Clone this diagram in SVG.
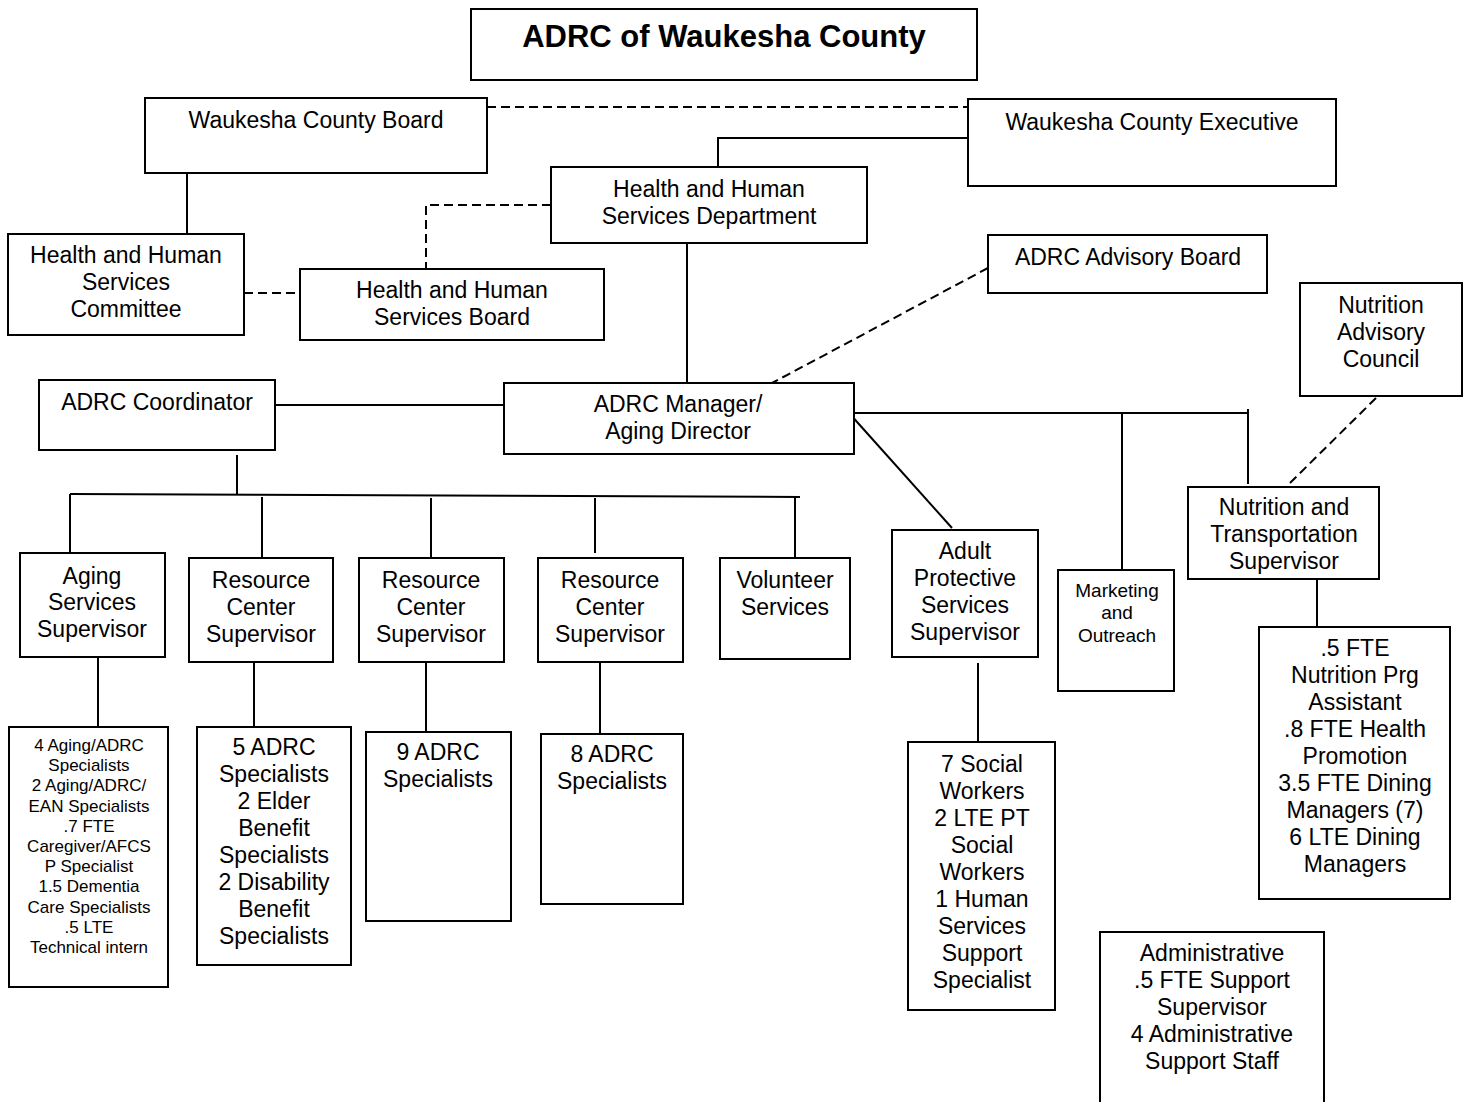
<svg xmlns="http://www.w3.org/2000/svg" width="1470" height="1102" viewBox="0 0 1470 1102">
<style>
.b{fill:#fff;stroke:#000;stroke-width:2}
.t{font-family:"Liberation Sans",Arial,sans-serif;font-size:23px;fill:#000;text-anchor:middle}
.s{font-size:17px}
.m{font-size:19px}
.title{font-size:31px;font-weight:bold}
.l{fill:none;stroke:#000;stroke-width:2}
.d{fill:none;stroke:#000;stroke-width:2;stroke-dasharray:9 5}
</style>
<rect width="1470" height="1102" fill="#fff"/>
<g id="connectors">
<path class="d" d="M487 107H968"/>
<path class="l" d="M968 138H718V167"/>
<path class="l" d="M187 173V234"/>
<path class="d" d="M244 293H300"/>
<path class="d" d="M551 205H426V269"/>
<path class="l" d="M687 243V383"/>
<path class="d" d="M988 268L772 383"/>
<path class="l" d="M275 405H504"/>
<path class="l" d="M237 455V495"/>
<path class="l" d="M70 494L800 497"/>
<path class="l" d="M70 494V553M262 497V558M431 498V558M595 498V553M795 497V558"/>
<path class="l" d="M849 413L952 528"/>
<path class="l" d="M849 413H1248M1122 413V570M1248 409V484"/>
<path class="d" d="M1376 398L1287 486"/>
<path class="l" d="M1317 579V627"/>
<path class="l" d="M98 657V727M254 662V727M426 662V732M600 662V734M978 663V742"/>
</g>
<g id="title"><rect class="b" x="471" y="9" width="506" height="71"/><text class="t title" x="724" y="47">ADRC of Waukesha County</text></g>
<g id="county-board"><rect class="b" x="145" y="98" width="342" height="75"/><text class="t" x="316" y="128">Waukesha County Board</text></g>
<g id="county-exec"><rect class="b" x="968" y="99" width="368" height="87"/><text class="t" x="1152" y="130">Waukesha County Executive</text></g>
<g id="hhs-dept"><rect class="b" x="551" y="167" width="316" height="76"/><text class="t" x="709" y="197">Health and Human</text><text class="t" x="709" y="224">Services Department</text></g>
<g id="hhs-committee"><rect class="b" x="8" y="234" width="236" height="101"/><text class="t" x="126" y="263">Health and Human</text><text class="t" x="126" y="290">Services</text><text class="t" x="126" y="317">Committee</text></g>
<g id="hhs-board"><rect class="b" x="300" y="269" width="304" height="71"/><text class="t" x="452" y="298">Health and Human</text><text class="t" x="452" y="325">Services Board</text></g>
<g id="advisory-board"><rect class="b" x="988" y="235" width="279" height="58"/><text class="t" x="1128" y="265">ADRC Advisory Board</text></g>
<g id="nutrition-council"><rect class="b" x="1300" y="283" width="162" height="113"/><text class="t" x="1381" y="313">Nutrition</text><text class="t" x="1381" y="340">Advisory</text><text class="t" x="1381" y="367">Council</text></g>
<g id="coordinator"><rect class="b" x="39" y="380" width="236" height="70"/><text class="t" x="157" y="410">ADRC Coordinator</text></g>
<g id="manager"><rect class="b" x="504" y="383" width="350" height="71"/><text class="t" x="678" y="412">ADRC Manager/</text><text class="t" x="678" y="439">Aging Director</text></g>
<g id="aging-sup"><rect class="b" x="20" y="553" width="145" height="104"/><text class="t" x="92" y="584">Aging</text><text class="t" x="92" y="610">Services</text><text class="t" x="92" y="637">Supervisor</text></g>
<g id="rcs1"><rect class="b" x="189" y="558" width="144" height="104"/><text class="t" x="261" y="588">Resource</text><text class="t" x="261" y="615">Center</text><text class="t" x="261" y="642">Supervisor</text></g>
<g id="rcs2"><rect class="b" x="359" y="558" width="145" height="104"/><text class="t" x="431" y="588">Resource</text><text class="t" x="431" y="615">Center</text><text class="t" x="431" y="642">Supervisor</text></g>
<g id="rcs3"><rect class="b" x="538" y="558" width="145" height="104"/><text class="t" x="610" y="588">Resource</text><text class="t" x="610" y="615">Center</text><text class="t" x="610" y="642">Supervisor</text></g>
<g id="volunteer"><rect class="b" x="720" y="558" width="130" height="101"/><text class="t" x="785" y="588">Volunteer</text><text class="t" x="785" y="615">Services</text></g>
<g id="aps-sup"><rect class="b" x="892" y="530" width="146" height="127"/><text class="t" x="965" y="559">Adult</text><text class="t" x="965" y="586">Protective</text><text class="t" x="965" y="613">Services</text><text class="t" x="965" y="640">Supervisor</text></g>
<g id="marketing"><rect class="b" x="1058" y="570" width="116" height="121"/><text class="t m" x="1117" y="597">Marketing</text><text class="t m" x="1117" y="619">and</text><text class="t m" x="1117" y="642">Outreach</text></g>
<g id="nutrition-sup"><rect class="b" x="1188" y="487" width="191" height="92"/><text class="t" x="1284" y="515">Nutrition and</text><text class="t" x="1284" y="542">Transportation</text><text class="t" x="1284" y="569">Supervisor</text></g>
<g id="nutrition-staff"><rect class="b" x="1259" y="627" width="191" height="272"/>
<text class="t" x="1355" y="656">.5 FTE</text><text class="t" x="1355" y="683">Nutrition Prg</text><text class="t" x="1355" y="710">Assistant</text><text class="t" x="1355" y="737">.8 FTE Health</text><text class="t" x="1355" y="764">Promotion</text><text class="t" x="1355" y="791">3.5 FTE Dining</text><text class="t" x="1355" y="818">Managers (7)</text><text class="t" x="1355" y="845">6 LTE Dining</text><text class="t" x="1355" y="872">Managers</text></g>
<g id="aging-staff"><rect class="b" x="9" y="727" width="159" height="260"/>
<text class="t s" x="89" y="751">4 Aging/ADRC</text><text class="t s" x="89" y="771">Specialists</text><text class="t s" x="89" y="791">2 Aging/ADRC/</text><text class="t s" x="89" y="812">EAN Specialists</text><text class="t s" x="89" y="832">.7 FTE</text><text class="t s" x="89" y="852">Caregiver/AFCS</text><text class="t s" x="89" y="872">P Specialist</text><text class="t s" x="89" y="892">1.5 Dementia</text><text class="t s" x="89" y="913">Care Specialists</text><text class="t s" x="89" y="933">.5 LTE</text><text class="t s" x="89" y="953">Technical intern</text></g>
<g id="rc1-staff"><rect class="b" x="197" y="727" width="154" height="238"/>
<text class="t" x="274" y="755">5 ADRC</text><text class="t" x="274" y="782">Specialists</text><text class="t" x="274" y="809">2 Elder</text><text class="t" x="274" y="836">Benefit</text><text class="t" x="274" y="863">Specialists</text><text class="t" x="274" y="890">2 Disability</text><text class="t" x="274" y="917">Benefit</text><text class="t" x="274" y="944">Specialists</text></g>
<g id="rc2-staff"><rect class="b" x="366" y="732" width="145" height="189"/><text class="t" x="438" y="760">9 ADRC</text><text class="t" x="438" y="787">Specialists</text></g>
<g id="rc3-staff"><rect class="b" x="541" y="734" width="142" height="170"/><text class="t" x="612" y="762">8 ADRC</text><text class="t" x="612" y="789">Specialists</text></g>
<g id="aps-staff"><rect class="b" x="908" y="742" width="147" height="268"/>
<text class="t" x="982" y="772">7 Social</text><text class="t" x="982" y="799">Workers</text><text class="t" x="982" y="826">2 LTE PT</text><text class="t" x="982" y="853">Social</text><text class="t" x="982" y="880">Workers</text><text class="t" x="982" y="907">1 Human</text><text class="t" x="982" y="934">Services</text><text class="t" x="982" y="961">Support</text><text class="t" x="982" y="988">Specialist</text></g>
<g id="admin"><rect class="b" x="1100" y="932" width="224" height="180"/>
<text class="t" x="1212" y="961">Administrative</text><text class="t" x="1212" y="988">.5 FTE Support</text><text class="t" x="1212" y="1015">Supervisor</text><text class="t" x="1212" y="1042">4 Administrative</text><text class="t" x="1212" y="1069">Support Staff</text></g>
</svg>
